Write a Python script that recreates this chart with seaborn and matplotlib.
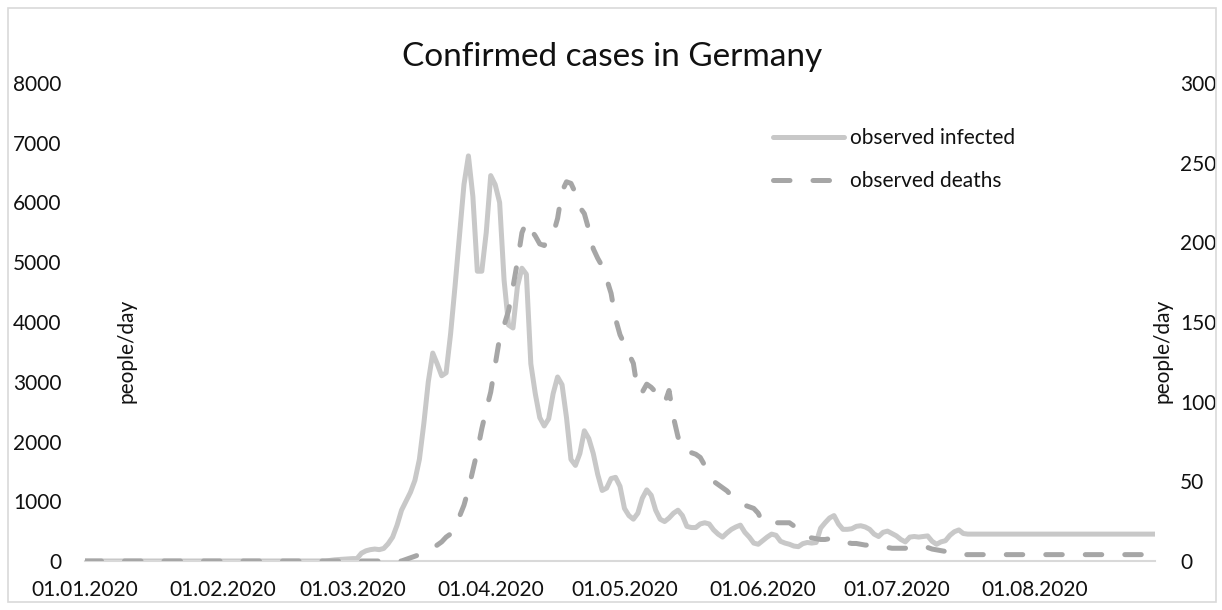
import matplotlib
matplotlib.use("Agg")
import matplotlib.pyplot as plt
import matplotlib.dates as mdates
from matplotlib.patches import Rectangle
import numpy as np
import pandas as pd
import seaborn as sns

# ---------------- data ----------------
start_date = "2020-01-01"
end_date = "2020-08-28"

observed_infected = (
    [0] * 55 +
    [10, 20, 25, 30, 35, 40,
     40, 130, 170, 190, 200, 190, 210, 290, 400, 600,
     850, 1000, 1150, 1350, 1700, 2300, 3000, 3480, 3300, 3100,
     3150, 3800, 4600, 5450, 6300, 6780, 6100, 4850, 4850, 5500,
     6450, 6300, 6000, 4700, 3950, 3900, 4600, 4900, 4800, 3300,
     2800, 2400, 2260, 2380, 2800, 3080, 2950, 2400, 1700, 1600,
     1800, 2180, 2050, 1800, 1450, 1180, 1220, 1380, 1400, 1250,
     880, 760, 700, 800, 1050, 1190, 1100, 850, 700, 660,
     720, 800, 850, 760, 580, 560, 560, 620, 640, 620,
     520, 450, 400, 470, 530, 570, 600, 480, 400, 300,
     280, 340, 400, 450, 430, 330, 300, 280, 250, 240,
     290, 310, 300, 310, 550, 640, 720, 760, 620, 530,
     530, 540, 580, 590, 570, 530, 450, 410, 480, 500,
     460, 420, 360, 320, 400, 410, 400, 410, 420, 330,
     280, 320, 340, 430, 490, 520, 460] +
    [450] * 43
)

observed_deaths = (
    [0] * 72 +
    [1, 2, 3, 4, 5, 6, 8, 10,
     12, 15, 17, 22, 28, 35, 45, 57, 69, 83, 95,
     106, 123, 140, 148, 157, 172, 188, 206, 213, 208,
     204, 199, 198, 202, 205, 215, 232, 238, 237, 231,
     222, 218, 208, 196, 190, 185, 177, 168, 152, 142,
     136, 130, 124, 106, 106, 111, 109, 106, 103, 99,
     107, 90, 78, 70, 68, 68, 67, 65, 60, 54,
     50, 48, 46, 44, 41, 38, 37, 35, 34, 33,
     30, 24, 24, 24, 24, 24, 24, 24, 22, 18,
     16, 15, 14.5, 14, 13.5, 13.5, 14, 14, 13, 12,
     11.5, 11, 11, 10.5, 10, 10, 10, 9.5, 9, 8.5,
     8, 8, 8, 8, 9, 9, 9, 9, 8.5, 7.5,
     7, 6.5, 6, 6, 5, 4.5, 4] +
    [4] * 43
)

left_ticks = [0, 1000, 2000, 3000, 4000, 5000, 6000, 7000, 8000]
right_ticks = [0, 50, 100, 150, 200, 250, 300]
x_tick_dates = ["2020-01-01", "2020-02-01", "2020-03-01", "2020-04-01",
                "2020-05-01", "2020-06-01", "2020-07-01", "2020-08-01"]

title = "Confirmed cases in Germany"
series_names = ["observed infected", "observed deaths"]
axis_label = "people/day"

dates = pd.date_range(start_date, end_date, freq="D")
df = pd.DataFrame({"date": dates,
                   "infected": observed_infected,
                   "deaths": observed_deaths})

# ---------------- style ----------------
sns.set_style("white")
plt.rcParams["font.family"] = ["Lato", "DejaVu Sans"]

W, H = 1222, 610
fig = plt.figure(figsize=(W / 100, H / 100), dpi=100)
ax = fig.add_axes([85 / W, 1 - 561 / H, (1155 - 85) / W, (561 - 83) / H])
ax2 = ax.twinx()

c_inf = "#C8C8C8"
c_dea = "#A6A6A6"

sns.lineplot(data=df, x="date", y="infected", ax=ax, color=c_inf,
             linewidth=3.6, solid_capstyle="round", solid_joinstyle="round",
             label=series_names[0], legend=False)
sns.lineplot(data=df, x="date", y="deaths", ax=ax2, color=c_dea,
             linewidth=3.6, linestyle=(0, (3.3, 4.6)), dash_capstyle="round",
             dash_joinstyle="round", label=series_names[1], legend=False)

ax.set_xlim(dates[0], dates[-1])
ax.set_ylim(0, 8000)
ax2.set_ylim(0, 300)
ax.set_yticks(left_ticks)
ax2.set_yticks(right_ticks)
ax.set_xticks(pd.to_datetime(x_tick_dates))
ax.xaxis.set_major_formatter(mdates.DateFormatter("%d.%m.%Y"))

for a in (ax, ax2):
    a.set_xlabel("")
    a.set_ylabel("")
    for s in a.spines.values():
        s.set_visible(False)
    a.grid(False)
    a.patch.set_alpha(0)

ax.spines["bottom"].set_visible(True)
ax.spines["bottom"].set_color("#D9D9D9")
ax.spines["bottom"].set_linewidth(1.5)

ax.tick_params(axis="x", length=0, pad=14, labelsize=15, labelcolor="#111111")
ax.tick_params(axis="y", length=0, pad=17, labelsize=15, labelcolor="#111111")
ax2.tick_params(axis="y", length=0, pad=18, labelsize=15, labelcolor="#111111")

fig.text(612 / W, 1 - 57 / H, title, ha="center", va="center",
         fontsize=24, color="#111111")
fig.text(127 / W, 1 - 351 / H, axis_label, rotation=90, ha="center",
         va="center", fontsize=15, color="#111111")
fig.text(1163 / W, 1 - 351 / H, axis_label, rotation=90, ha="center",
         va="center", fontsize=15, color="#111111")

h1, l1 = ax.get_legend_handles_labels()
h2, l2 = ax2.get_legend_handles_labels()
leg = fig.legend(h1 + h2, l1 + l2, loc="upper left",
                 bbox_to_anchor=(773 / W, 1 - 128 / H), frameon=False,
                 fontsize=15, handlelength=3.4, handletextpad=0.3,
                 labelspacing=1.1, borderpad=0, borderaxespad=0)
for t in leg.get_texts():
    t.set_color("#111111")

fig.add_artist(Rectangle((8 / W, 8 / H), (1216 - 8) / W, (602 - 8) / H,
                         transform=fig.transFigure, fill=False,
                         edgecolor="#D9D9D9", linewidth=1.2))

fig.savefig("out.png", dpi=100)
